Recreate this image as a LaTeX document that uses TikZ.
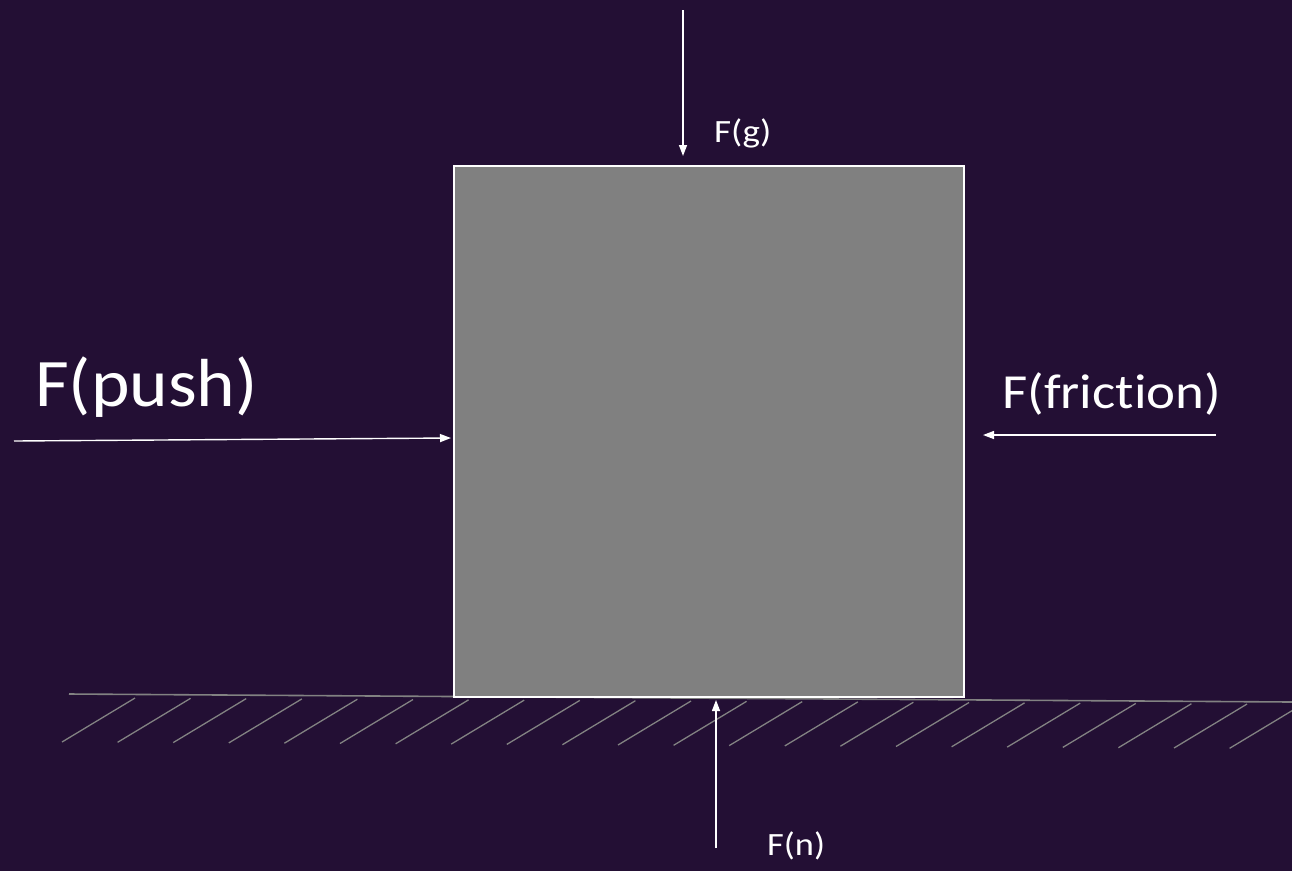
\documentclass[tikz,border=0pt]{standalone}
\usepackage{fontspec}
\setmainfont{Carlito}[Ligatures={NoCommon,NoContextual}]
\usetikzlibrary{arrows.meta}
\definecolor{bgpurple}{RGB}{35,15,52}
\definecolor{boxgray}{RGB}{128,128,128}
\definecolor{hatchgray}{RGB}{130,130,130}
\newcommand{\widetext}[2]{\scalebox{#1}[1]{#2}}
\tikzset{
  force/.style={draw=white, line width=1.4pt, -{Triangle[length=11pt,width=8pt]}},
  smalllabel/.style={text=white, inner sep=0pt, anchor=base west, font=\fontsize{32.5}{38}\selectfont},
  biglabel/.style={text=white, inner sep=0pt, anchor=base west},
  hatch/.style={draw=hatchgray, line width=1.3pt},
  ground/.style={draw=hatchgray, line width=1.6pt},
  block/.style={draw=white, fill=boxgray, line width=2pt, inner sep=0pt, anchor=north west, minimum width=510pt, minimum height=531pt}
}
\begin{document}
\begin{tikzpicture}[x=1pt, y=-1pt]
\useasboundingbox (0,0) rectangle (1292,871);
\fill[bgpurple] (0,0) rectangle (1292,871);
% ground
\coordinate (gl) at (69,694);
\coordinate (gr) at (1292,702);
\draw[ground] (gl) -- (gr);
\begin{scope}
\clip (0,0) rectangle (1292,871);
\foreach \k in {0,...,21} {
  \draw[hatch] ({62+55.6*\k},{742+0.3*\k}) -- ++(73,-44);
}
\end{scope}
% block
\node[block] (box) at (453,165) {};
% gravity
\coordinate (gstart) at (683,10);
\coordinate (gend) at (683,156);
\draw[force] (gstart) -- (gend);
\node[smalllabel] (lg) at (714,142) {\widetext{1.14}{F(g)}};
% normal
\coordinate (nstart) at (716,848);
\coordinate (nend) at (716,700);
\draw[force] (nstart) -- (nend);
\node[smalllabel] (ln) at (767,855) {\widetext{1.12}{F(n)}};
% push
\coordinate (pstart) at (14,441);
\coordinate (pend) at (451,438);
\draw[force] (pstart) -- (pend);
\node[biglabel, font=\fontsize{68}{80}\selectfont] (lp) at (35,406) {\widetext{1.08}{F(push)}};
% friction
\coordinate (fstart) at (1216,435);
\coordinate (fend) at (983,435);
\draw[force] (fstart) -- (fend);
\node[biglabel, font=\fontsize{49}{58}\selectfont] (lf) at (1002,408) {\widetext{1.12}{F(friction)}};
\end{tikzpicture}
\end{document}
